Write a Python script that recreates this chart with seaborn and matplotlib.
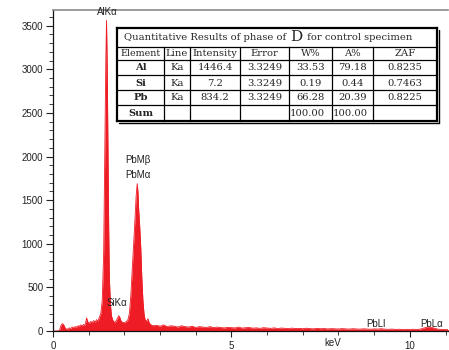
import matplotlib
matplotlib.use("Agg")
import matplotlib.pyplot as plt
import matplotlib.transforms as mtransforms
from matplotlib.ticker import MultipleLocator
from matplotlib.patches import Rectangle
import seaborn as sns
import pandas as pd

# ---------------- data ----------------
energy_kev = [0.00, 0.10, 0.18, 0.22, 0.26, 0.30, 0.34, 0.38, 0.42, 0.46, 0.50, 0.54, 0.58, 0.62,
              0.66, 0.70, 0.74, 0.78, 0.82, 0.86, 0.90, 0.94, 0.98, 1.02, 1.06, 1.10, 1.14, 1.18,
              1.22, 1.26, 1.30, 1.34, 1.38, 1.42, 1.45, 1.48, 1.50, 1.52, 1.54, 1.56, 1.58, 1.61,
              1.64, 1.68, 1.72, 1.76, 1.80, 1.84, 1.87, 1.90, 1.94, 1.98, 2.02, 2.06, 2.10, 2.14,
              2.18, 2.22, 2.26, 2.30, 2.33, 2.36, 2.38, 2.40, 2.43, 2.46, 2.49, 2.52, 2.55, 2.58,
              2.62, 2.66, 2.70, 2.75, 2.80,
              2.9, 3.0, 3.1, 3.2, 3.3, 3.4, 3.5, 3.6, 3.7, 3.8, 3.9, 4.0, 4.1, 4.2, 4.3, 4.4,
              4.5, 4.6, 4.7, 4.8, 4.9, 5.0, 5.1, 5.2, 5.3, 5.4, 5.5, 5.6, 5.7, 5.8, 5.9, 6.0,
              6.1, 6.2, 6.3, 6.4, 6.5, 6.6, 6.7, 6.8, 6.9, 7.0, 7.1, 7.2, 7.3, 7.4, 7.5, 7.6,
              7.7, 7.8, 7.9, 8.0, 8.1, 8.2, 8.3, 8.4, 8.5, 8.6, 8.7, 8.8, 8.9, 9.0, 9.1, 9.2,
              9.3, 9.4, 9.5, 9.6, 9.7, 9.8, 9.9, 10.0, 10.1, 10.2, 10.3, 10.4, 10.5, 10.6, 10.7,
              10.8, 10.9, 11.0, 11.1]
counts = [0, 0, 5, 60, 85, 70, 35, 20, 25, 35, 30, 45, 40, 50,
          45, 60, 55, 70, 60, 75, 65, 150, 100, 90, 110, 95, 120, 100,
          130, 115, 160, 200, 350, 900, 2000, 3100, 3560, 3000, 2100, 1200, 600, 300,
          170, 120, 100, 110, 140, 175, 160, 120, 100, 95, 100, 110, 130, 200,
          400, 700, 1000, 1300, 1550, 1690, 1600, 1400, 1200, 950, 600, 350, 200, 130,
          110, 140, 90, 70, 60,
          65, 55, 70, 50, 60, 55, 45, 60, 50, 45, 55, 40, 50, 45, 40, 50,
          38, 45, 40, 35, 42, 38, 35, 45, 33, 38, 40, 32, 36, 30, 38, 34,
          30, 36, 28, 34, 30, 27, 33, 28, 30, 26, 32, 27, 25, 30, 26, 28,
          24, 27, 25, 23, 27, 24, 22, 26, 23, 21, 25, 22, 20, 24, 22, 26,
          21, 19, 22, 18, 20, 17, 19, 18, 20, 17, 22, 35, 45, 42, 30,
          20, 18, 16, 15]

peak_labels = ["AlK\u03b1", "PbM\u03b2", "PbM\u03b1", "SiK\u03b1", "PbLl", "PbL\u03b1"]
peak_label_x = [1.52, 2.37, 2.37, 1.80, 9.05, 10.60]
peak_label_y = [3600, 1960, 1790, 320, 80, 80]

table_title = "Quantitative Results of phase of "
table_title_sample = "D"
table_title_tail = " for control specimen"
col_headers = ["Element", "Line", "Intensity", "Error", "W%", "A%", "ZAF"]
elements = ["Al", "Si", "Pb", "Sum"]
lines_ = ["Ka", "Ka", "Ka", ""]
intensity = ["1446.4", "7.2", "834.2", ""]
error = ["3.3249", "3.3249", "3.3249", ""]
w_pct = ["33.53", "0.19", "66.28", "100.00"]
a_pct = ["79.18", "0.44", "20.39", "100.00"]
zaf = ["0.8235", "0.7463", "0.8225", ""]

x_major_ticks = [0, 5, 10]
y_major_ticks = [0, 500, 1000, 1500, 2000, 2500, 3000, 3500]

# ---------------- figure ----------------
sns.set_style("ticks")
plt.rcParams['font.family'] = ['Liberation Sans', 'DejaVu Sans']

W, H = 449, 350
fig = plt.figure(figsize=(W / 100, H / 100), dpi=100)
ax = fig.add_axes([53 / W, 1 - 331 / H, (448 - 53) / W, (331 - 10) / H])

red = "#EE1C24"
df = pd.DataFrame({"keV": energy_kev, "counts": counts})
ax.fill_between(df["keV"], 0, df["counts"], color=red, linewidth=0)
sns.lineplot(data=df, x="keV", y="counts", ax=ax, color=red, linewidth=0.6)

ax.set_xlim(0, 11.07)
ax.set_ylim(0, 3680)
ax.set_xlabel("")
ax.set_ylabel("")

ax.set_xticks(x_major_ticks)
ax.xaxis.set_minor_locator(MultipleLocator(1))
ax.set_yticks(y_major_ticks)
ax.yaxis.set_minor_locator(MultipleLocator(100))
ax.tick_params(axis="both", which="major", direction="out", length=5, width=0.8,
               labelsize=7, colors="#222222", pad=2)
ax.tick_params(axis="both", which="minor", direction="out", length=3, width=0.6, colors="#222222")
ax.tick_params(axis="x", which="major", length=4, pad=3)

for s in ["left", "bottom"]:
    ax.spines[s].set_color("#111111")
    ax.spines[s].set_linewidth(0.9)
ax.spines["top"].set_color("#8a8a8a")
ax.spines["top"].set_linewidth(1.2)
ax.spines["right"].set_visible(False)

blend = mtransforms.blended_transform_factory(ax.transData, ax.transAxes)
ax.text(7.85, -0.022, "keV", transform=blend, ha="center", va="top", fontsize=7, color="#222222")

for lab, lx, ly in zip(peak_labels, peak_label_x, peak_label_y):
    ax.text(lx, ly, lab, ha="center", va="bottom" if lab == "AlK\u03b1" else "center",
            fontsize=7, color="#222222")

# ---------------- table ----------------
col_edges = [117, 164, 190, 240, 289, 332, 373, 437]
row_edges = [28, 47, 60, 75, 90, 105, 121]
serif = ['DejaVu Serif']

tab_ax = fig.add_axes([0, 0, 1, 1], facecolor="none")
tab_ax.set_xlim(0, W)
tab_ax.set_ylim(H, 0)
tab_ax.axis("off")

tab_ax.add_patch(Rectangle((col_edges[0], row_edges[0]), col_edges[-1] - col_edges[0],
                           row_edges[-1] - row_edges[0], facecolor="white", edgecolor="none"))
for i, r in enumerate(row_edges):
    lw = 1.6 if i in (0, len(row_edges) - 1) else 0.9
    tab_ax.plot([col_edges[0], col_edges[-1]], [r, r], color="black", lw=lw, solid_capstyle="projecting")
for j, c in enumerate(col_edges):
    lw = 1.6 if j in (0, len(col_edges) - 1) else 0.9
    top = row_edges[0] if j in (0, len(col_edges) - 1) else row_edges[1]
    tab_ax.plot([c, c], [top, row_edges[-1]], color="black", lw=lw, solid_capstyle="projecting")
tab_ax.plot([col_edges[-1] + 1.5, col_edges[-1] + 1.5], [row_edges[0] + 2, row_edges[-1] + 1.5], color="black", lw=1.0)
tab_ax.plot([col_edges[0] + 2, col_edges[-1] + 1.5], [row_edges[-1] + 1.5, row_edges[-1] + 1.5], color="black", lw=1.0)

# title with larger "D"
renderer = fig.canvas.get_renderer()
ty = (row_edges[0] + row_edges[1]) / 2 + 0.5
t1 = tab_ax.text(124, ty, table_title, ha="left", va="center", fontsize=7.2, family=serif)
bb = t1.get_window_extent(renderer=renderer)
t2 = tab_ax.text(bb.x1 + 1, H - ty + 1, table_title_sample, ha="left", va="center", fontsize=11,
                 family=serif, transform=None)
bb2 = t2.get_window_extent(renderer=renderer)
tab_ax.text(bb2.x1 + 1, H - ty, table_title_tail, ha="left", va="center", fontsize=7.2,
            family=serif, transform=None)

hy = (row_edges[1] + row_edges[2]) / 2 + 0.5
for j, h in enumerate(col_headers):
    cx = (col_edges[j] + col_edges[j + 1]) / 2
    tab_ax.text(cx, hy, h, ha="center", va="center", fontsize=7.2 if j != 0 else 6.8, family=serif)

columns = [elements, lines_, intensity, error, w_pct, a_pct, zaf]
for i in range(len(elements)):
    ry = (row_edges[i + 2] + row_edges[i + 3]) / 2 + 0.5
    for j, col in enumerate(columns):
        val = col[i]
        if not val:
            continue
        if val == "100.00":
            tab_ax.text(col_edges[j] + 1, ry, val, ha="left", va="center", fontsize=7.2, family=serif)
        else:
            cx = (col_edges[j] + col_edges[j + 1]) / 2
            tab_ax.text(cx, ry, val, ha="center", va="center", fontsize=7.2,
                        family=serif, fontweight="bold" if j == 0 else "normal")

fig.savefig("out.png", dpi=100)
